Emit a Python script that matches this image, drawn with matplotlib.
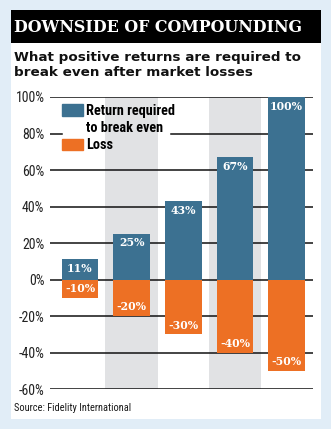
import matplotlib
matplotlib.use("Agg")
import matplotlib.pyplot as plt
from matplotlib.patches import Rectangle, Patch
from matplotlib import font_manager as fm

categories = ["10% loss", "20% loss", "30% loss", "40% loss", "50% loss"]
required_return = [11, 25, 43, 67, 100]
loss = [-10, -20, -30, -40, -50]
yticks = [100, 80, 60, 40, 20, 0, -20, -40, -60]
ytick_labels = ["100%", "80%", "60%", "40%", "20%", "0%", "-20%", "-40%", "-60%"]
title = "DOWNSIDE OF COMPOUNDING"
subtitle = "What positive returns are required to\nbreak even after market losses"
source = "Source: Fidelity International"
legend_lines = ["Return required", "to break even", "Loss"]

BLUE = "#3c7191"
ORANGE = "#ed7024"
BG = "#e1edf7"
GREY = "#e1e2e4"

# pick a condensed sans if one is installed
ttf = fm.fontManager.ttflist
COND = None
for nm in ["Liberation Sans Narrow", "Roboto Condensed", "Open Sans Condensed",
           "Noto Sans Condensed", "DejaVu Sans Condensed"]:
    if any(f.name == nm for f in ttf):
        COND = dict(family=nm)
        break
if COND is None:
    for fam in ["Roboto", "Open Sans", "Noto Sans", "DejaVu Sans", "Lato", "Inter"]:
        if any(f.name == fam and str(f.stretch) in ("condensed", "semi-condensed", "extra-condensed")
               for f in ttf):
            COND = dict(family=fam, stretch="condensed")
            break
narrow = COND is not None
if COND is None:
    COND = dict(family="Liberation Sans")

W, H = 331, 429
fig = plt.figure(figsize=(W / 100, H / 100), dpi=100)
fig.patch.set_facecolor(BG)

def fx(px):
    return px / W

def fy(py):
    return 1 - py / H

fig.patches.append(Rectangle((fx(11), fy(419)), fx(310), (419 - 10) / H,
                             transform=fig.transFigure, facecolor="white", edgecolor="none", zorder=-3))
fig.patches.append(Rectangle((fx(11), fy(43)), fx(310), (43 - 10) / H,
                             transform=fig.transFigure, facecolor="black", edgecolor="none", zorder=-2))

fig.text(fx(14), fy(27), title, color="white", fontsize=11.4, fontweight="heavy",
         family="DejaVu Serif", va="center", ha="left")
fig.text(fx(14), fy(65), subtitle, color="#111111", fontsize=9.7, fontweight="bold",
         family="DejaVu Sans", va="center", ha="left", linespacing=1.1)
fig.text(fx(14), fy(408), source, color="#1a1a1a", fontsize=7.5 if narrow else 5.9,
         va="center", ha="left", **COND)

ax = fig.add_axes([fx(50), fy(389), fx(313 - 50), (389 - 97) / H])
ax.set_facecolor("none")
x = list(range(len(categories)))
ax.set_xlim(-0.58, 4.51)
ax.set_ylim(-60, 100)

for i in x:
    if i % 2 == 1:
        ax.axvspan(i - 0.51, i + 0.51, color=GREY, zorder=0, lw=0)

for t in yticks:
    if t == 80:
        ax.axhline(t, xmin=0, xmax=(62 - 50) / 263, color="#111111", lw=1.1, zorder=1)
        ax.axhline(t, xmin=(171 - 50) / 263, xmax=1, color="#111111", lw=1.1, zorder=1)
    else:
        ax.axhline(t, color="#111111", lw=1.1, zorder=1)

w = 0.71
ax.bar(x, required_return, width=w, color=BLUE, zorder=2)
ax.bar(x, loss, width=w, color=ORANGE, zorder=2)

lab_font = dict(color="white", fontsize=7.8, fontweight="heavy", family="DejaVu Serif",
                ha="center", va="center", zorder=3)
for xi, v in zip(x, required_return):
    ax.annotate(f"{v}%", (xi, v), xytext=(0, -9), textcoords="offset pixels", **lab_font)
for xi, v in zip(x, loss):
    ax.annotate(f"{v}%", (xi, v), xytext=(0, 9), textcoords="offset pixels", **lab_font)

ax.set_yticks(yticks)
ax.set_yticklabels(ytick_labels, fontsize=10 if narrow else 8.6, color="#222222", **COND)
ax.tick_params(axis="y", length=0, pad=4)
ax.set_xticks([])
for s in ax.spines.values():
    s.set_visible(False)

leg_prop = dict(COND)
fs = 10.3 if narrow else 7.1
leg_prop.update(weight="bold", size=fs)
fs_px = fs * 100 / 72
handles = [Patch(color=BLUE), Patch(facecolor="none", edgecolor="none"), Patch(color=ORANGE)]
leg = ax.legend(handles, legend_lines, loc="upper left",
                bbox_to_anchor=((62 - 50) / 263, 1 - 7 / 292),
                frameon=False, prop=leg_prop,
                handlelength=21 / fs_px, handleheight=12 / fs_px, handletextpad=3 / fs_px,
                labelspacing=0.22 if narrow else 0.38, borderpad=0, borderaxespad=0)
leg.set_zorder(4)

fig.savefig("out.png", dpi=100, facecolor=BG)
